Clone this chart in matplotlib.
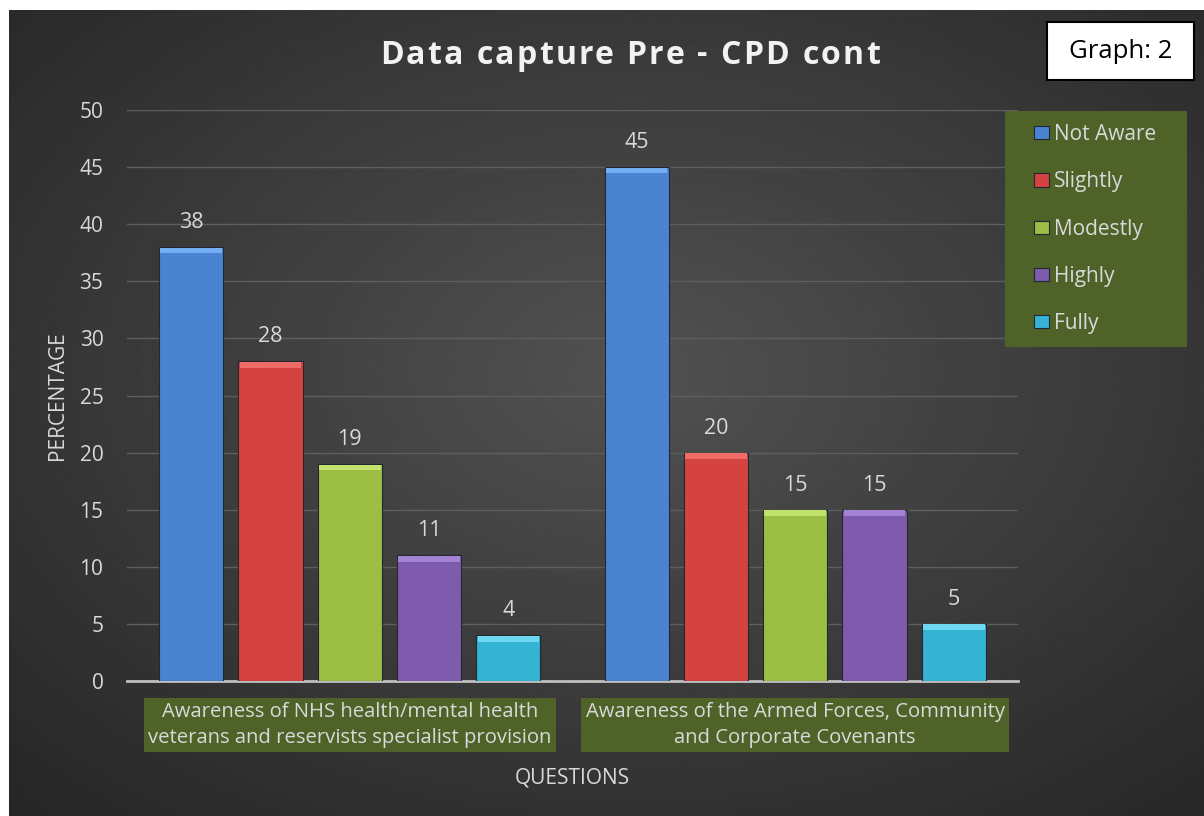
import matplotlib
matplotlib.use("Agg")
import matplotlib.pyplot as plt
from matplotlib.patches import Rectangle
import numpy as np

questions = ["Awareness of NHS health/mental health\nveterans and reservists specialist provision",
             "Awareness of the Armed Forces, Community\nand Corporate Covenants"]
levels = ["Not Aware", "Slightly", "Modestly", "Highly", "Fully"]
not_aware = [38, 45]
slightly = [28, 20]
modestly = [19, 15]
highly = [11, 15]
fully = [4, 5]
series = [not_aware, slightly, modestly, highly, fully]
colors = ["#4A84D1", "#D4433F", "#9CBE44", "#7E5BAC", "#35B3D3"]
tops = ["#74AEF2", "#F06C68", "#C0E26A", "#A583D4", "#6ED8F2"]
title = "Data capture Pre - CPD cont"

plt.rcParams['font.family'] = ['Open Sans', 'DejaVu Sans']
txt = "#D9D9D9"
olive = "#4F6228"

fig = plt.figure(figsize=(12.04, 8.16), dpi=100)
fig.patch.set_facecolor('white')

# dark radial background
bg = fig.add_axes([9 / 1204, 0, 1 - 9 / 1204, 1 - 10 / 816])
yy, xx = np.mgrid[0:1:300j, 0:1:400j]
r = np.sqrt(((xx - 0.52) / 0.75) ** 2 + ((yy - 0.45) / 0.75) ** 2)
shade = 0.32 - 0.17 * np.clip(r, 0, 1)
bg.imshow(shade, cmap='gray', vmin=0, vmax=1, aspect='auto', extent=(0, 1, 0, 1))
bg.axis('off')

ax = fig.add_axes([127 / 1204, 1 - 681 / 816, 891 / 1204, 571 / 816])
ax.patch.set_alpha(0)
x = np.arange(len(questions))
step = 0.178
w = 0.144
handles = []
for j, (vals, c, tc) in enumerate(zip(series, colors, tops)):
    pos = x + (j - 2) * step
    bars = ax.bar(pos, vals, w, color=c, edgecolor='#222833', linewidth=0.8,
                  label=levels[j], zorder=3)
    ax.bar(pos, [0.5] * len(vals), w * 0.96, bottom=np.array(vals) - 0.55,
           color=tc, linewidth=0, zorder=4)
    ax.bar_label(bars, padding=10, color=txt, fontsize=15.5)
    handles.append(bars)

ax.set_xlim(-0.5, 1.5)
ax.set_ylim(0, 50)
ax.set_yticks(range(0, 51, 5))
ax.grid(axis='y', color='#5E5E5E', linewidth=1, zorder=0)
for s in ['top', 'right', 'left']:
    ax.spines[s].set_visible(False)
ax.spines['bottom'].set_color('#BFBFBF')
ax.spines['bottom'].set_linewidth(2)
ax.tick_params(axis='both', length=0, colors=txt, labelsize=15)
ax.tick_params(axis='y', pad=17)
ax.set_xticks(x)
ax.set_xticklabels(questions, fontsize=14.6, color=txt, linespacing=1.4)
ax.tick_params(axis='x', pad=15)
for t in ax.get_xticklabels():
    t.set_bbox(dict(facecolor=olive, edgecolor='none', pad=3))
ax.set_ylabel("PERCENTAGE", color=txt, fontsize=15, labelpad=8)
ax.set_xlabel("QUESTIONS", color=txt, fontsize=15, labelpad=14)

# title drawn letter by letter to get the wide tracking
renderer = fig.canvas.get_renderer()
tkw = dict(fontsize=23, fontweight='bold', color='#F2F2F2', va='center', ha='left')


def text_w(s):
    t = fig.text(0, 0, s, **tkw)
    wd = t.get_window_extent(renderer).width
    t.remove()
    return wd


track = 2.3
full = text_w(title) + track * (len(title) - 1)
x0 = 630 - full / 2
ty = 1 - 55 / 816
for i, ch in enumerate(title):
    if ch == ' ':
        continue
    left = text_w(title[:i + 1]) - text_w(ch) + track * i
    fig.text((x0 + left) / 1204, ty, ch, **tkw)

# legend box
fig.patches.append(Rectangle((1005 / 1204, 1 - 347 / 816), 182 / 1204, 236 / 816,
                             transform=fig.transFigure, facecolor=olive,
                             edgecolor='none', zorder=1))
leg = fig.legend(handles, levels, loc='upper left',
                 bbox_to_anchor=(1034 / 1204, 1 - 124 / 816),
                 frameon=False, labelcolor=txt, fontsize=15, handlelength=0.7,
                 handleheight=0.6, handletextpad=0.25, labelspacing=1.26,
                 borderpad=0, borderaxespad=0)

gax = fig.add_axes([1047 / 1204, 1 - 80 / 816, 147 / 1204, 58 / 816])
gax.set_xticks([])
gax.set_yticks([])
gax.set_facecolor('white')
for s in gax.spines.values():
    s.set_color('black')
    s.set_linewidth(1.5)
gax.text(0.5, 0.5, "Graph: 2", ha='center', va='center', fontsize=18.5, color='black',
         transform=gax.transAxes)

fig.savefig('out.png', dpi=100, facecolor=fig.get_facecolor())
